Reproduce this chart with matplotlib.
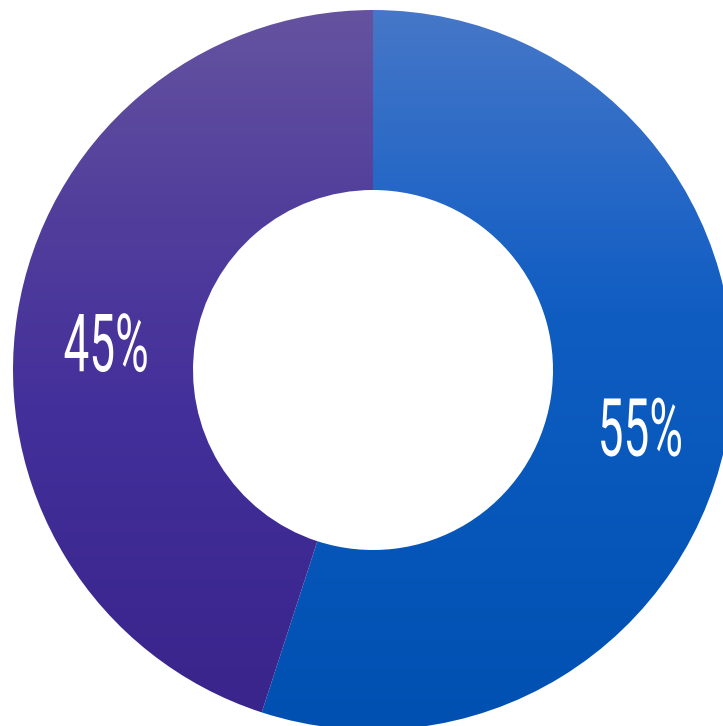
import numpy as np
import matplotlib.pyplot as plt
from matplotlib.colors import LinearSegmentedColormap
from matplotlib.patheffects import AbstractPathEffect
from matplotlib.transforms import Affine2D, offset_copy

labels = ["55%", "45%"]
shares = [55, 45]
# vertical gradient stops (0 = top of ring, 1 = bottom) for each slice
blue_stops = [(0.0, "#4677c8"), (0.27, "#2266c6"), (0.42, "#105dc2"),
              (0.75, "#0556b8"), (1.0, "#0050b2")]
purple_stops = [(0.0, "#6553a0"), (0.27, "#523f9c"), (0.55, "#44309a"),
                (0.83, "#3c2890"), (1.0, "#38248a")]
slice_stops = [blue_stops, purple_stops]

W, H = 723, 726
cx, cy = 373, H - 370
R = 360


class Squeeze(AbstractPathEffect):
    """Narrow the glyphs horizontally around their own centre."""

    def __init__(self, sx):
        super().__init__()
        self.sx = sx

    def draw_path(self, renderer, gc, tpath, affine, rgbFace=None):
        ext = tpath.get_extents(affine)
        mx = (ext.x0 + ext.x1) / 2
        squeeze = Affine2D().translate(-mx, 0).scale(self.sx, 1).translate(mx, 0)
        renderer.draw_path(gc, tpath, affine + squeeze, rgbFace)


fig = plt.figure(figsize=(W / 100, H / 100), dpi=100)
ax = fig.add_axes([0, 0, 1, 1])

wedges, _ = ax.pie(shares, startangle=90, counterclock=False, radius=R,
                   center=(cx, cy), frame=True,
                   wedgeprops=dict(width=R / 2, linewidth=0))
ax.set_xlim(0, W)
ax.set_ylim(0, H)
ax.set_aspect("equal")
ax.axis("off")

grad = np.linspace(1, 0, 512).reshape(-1, 1)
for w, stops in zip(wedges, slice_stops):
    w.set_facecolor("none")
    cmap = LinearSegmentedColormap.from_list(
        "g", [(1 - p, c) for p, c in stops[::-1]])
    im = ax.imshow(grad, cmap=cmap, vmin=0, vmax=1, aspect="auto",
                   extent=(cx - R, cx + R, cy - R, cy + R), origin="upper",
                   interpolation="bilinear")
    im.set_clip_path(w)

# percentage labels, baseline sits a little below each slice's mid-angle
shift = offset_copy(ax.transData, fig=fig, x=0, y=-43.5, units="dots")
start = 90
for lab, s in zip(labels, shares):
    mid = np.deg2rad(start - s * 3.6 / 2)
    start -= s * 3.6
    x = cx + 0.75 * R * np.cos(mid)
    y = cy + 0.75 * R * np.sin(mid)
    ax.text(x, y, lab, transform=shift, ha="center", va="baseline",
            color="white", fontsize=58, fontweight="normal",
            family=["Roboto", "DejaVu Sans"],
            path_effects=[Squeeze(0.57)])

fig.savefig("out.png", dpi=100)
